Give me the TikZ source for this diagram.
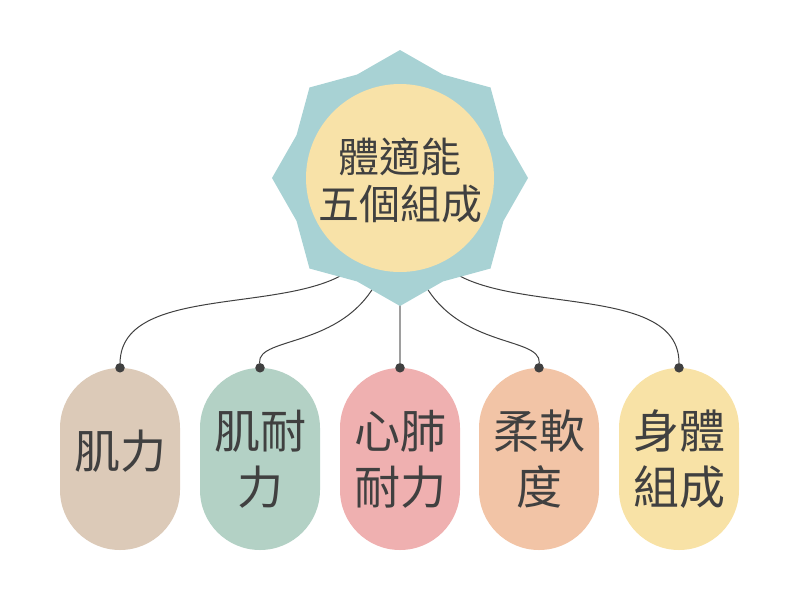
\documentclass[tikz,border=0pt]{standalone}
\usepackage{fontspec}
\newfontfamily\cjk{Noto Sans CJK TC}
\usetikzlibrary{backgrounds}

\definecolor{starteal}{HTML}{A8D2D4}
\definecolor{hubyellow}{HTML}{F8E2A8}
\definecolor{inkgray}{HTML}{404040}
\definecolor{stemgray}{HTML}{9E9E9E}
\definecolor{pillbeige}{HTML}{DCCAB8}
\definecolor{pillsage}{HTML}{B3D1C5}
\definecolor{pillpink}{HTML}{EFB0B0}
\definecolor{pillpeach}{HTML}{F2C4A6}
\definecolor{pillyellow}{HTML}{F8E2A6}

\begin{document}
\begin{tikzpicture}[x=1pt, y=-1pt,
    pill/.style={rounded corners=60pt, minimum width=120pt, minimum height=182pt,
        inner sep=0pt, align=center, text=inkgray, font=\cjk\fontsize{46}{56}\selectfont},
    knob/.style={circle, fill=inkgray, inner sep=0pt, minimum size=9.5pt},
    link/.style={draw=inkgray, line width=1pt}]
    \useasboundingbox (0,0) rectangle (800,600);

    % Eight-pointed star
    \fill[starteal, shift={(400,178)}] (90:128)
        \foreach \k in {0,...,7} { -- ({90+45*\k}:128) -- ({112.5+45*\k}:112) } -- cycle;

    % Title
    \node[circle, fill=hubyellow, minimum size=188pt, inner sep=0pt, align=center,
        text=inkgray, font=\cjk\fontsize{41}{47}\selectfont] (hub) at (400,178)
        {\raisebox{-2pt}[\height][\depth]{體適能}\\\raisebox{-2pt}[\height][\depth]{五個組成}};

    % Five components
    \node[pill, fill=pillbeige]  (p1) at (120,459) {\raisebox{8pt}[\height][\depth]{肌力}};
    \node[pill, fill=pillsage]   (p2) at (260,459) {肌耐\\力};
    \node[pill, fill=pillpink]   (p3) at (400,459) {心肺\\耐力};
    \node[pill, fill=pillpeach]  (p4) at (539,459) {柔軟\\度};
    \node[pill, fill=pillyellow] (p5) at (679,459) {身體\\組成};

    % Hanging points
    \foreach \i in {1,...,5}
        \node[knob] (k\i) at (p\i.north) {};

    % Connectors, behind the star
    \begin{scope}[on background layer]
        \draw[link] (hub.244) .. controls (305,318) and (121,280) .. (k1);
        \draw[link] (hub.259) .. controls (350,350) and (257,335) .. (k2);
        \draw[draw=stemgray, line width=2pt] (hub.south) -- (k3);
        \draw[link] (hub.281) .. controls (450,350) and (541,335) .. (k4);
        \draw[link] (hub.296) .. controls (495,318) and (679,280) .. (k5);
    \end{scope}
\end{tikzpicture}
\end{document}
